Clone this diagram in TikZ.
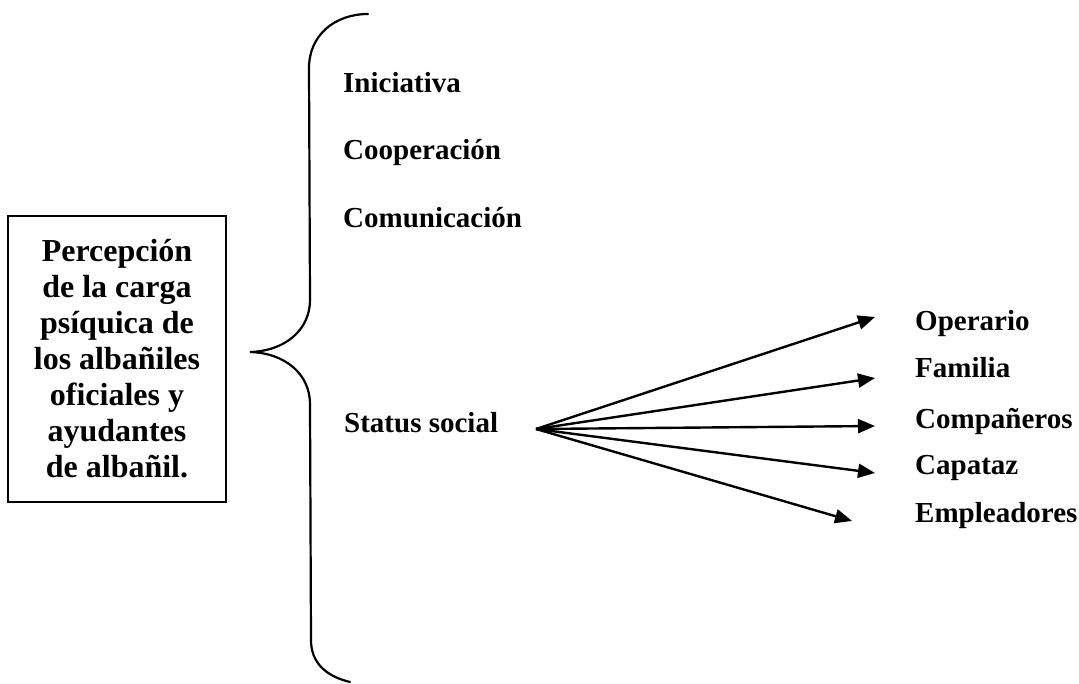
\documentclass[tikz,border=0pt]{standalone}
\usepackage{fontspec}
\setmainfont{Liberation Serif}
\usetikzlibrary{arrows.meta}
\begin{document}
\begin{tikzpicture}[x=1pt,y=-1pt,
  lbl/.style={anchor=base west,inner sep=0pt,font=\fontsize{29}{34}\selectfont\bfseries},
  arr/.style={line width=2.4pt,-{Triangle[length=17pt,width=14pt]}},
  bracestyle/.style={line width=2.2pt,line cap=round}]
\useasboundingbox (0,0) rectangle (1079,683);
\node[draw,line width=2pt,minimum width=218pt,minimum height=286pt,align=center,
  font=\fontsize{32}{36}\selectfont\bfseries,inner sep=0pt] (box) at (117,359)
  {Percepción\\de la carga\\psíquica de\\los albañiles\\oficiales y\\ayudantes\\de albañil.};
% brace
\draw[bracestyle] (368,14) .. controls (335,14) and (309,35) .. (309,68)
  -- (310,300) .. controls (310,330) and (285,351) .. (250,352)
  .. controls (285,353) and (310,374) .. (310,404)
  -- (311,640) .. controls (311,662) and (325,676) .. (350,682);
% labels
\node[lbl] (ini) at (343,92) {Iniciativa};
\node[lbl] (coo) at (343,159) {Cooperación};
\node[lbl] (com) at (343,227) {Comunicación};
\node[lbl] (sta) at (344,432) {Status social};
\node[lbl] (ope) at (915,330) {Operario};
\node[lbl] (fam) at (915,377) {Familia};
\node[lbl] (cmp) at (915,428) {Compañeros};
\node[lbl] (cap) at (915,474) {Capataz};
\node[lbl] (emp) at (915,522) {Empleadores};
% arrows
\coordinate (o) at (536,429);
\coordinate (t1) at (875,317);
\coordinate (t2) at (875,378);
\coordinate (t3) at (875,426);
\coordinate (t4) at (875,473);
\coordinate (t5) at (852,521);
\foreach \t in {t1,t2,t3,t4,t5} \draw[arr] (o) -- (\t);
\end{tikzpicture}
\end{document}
